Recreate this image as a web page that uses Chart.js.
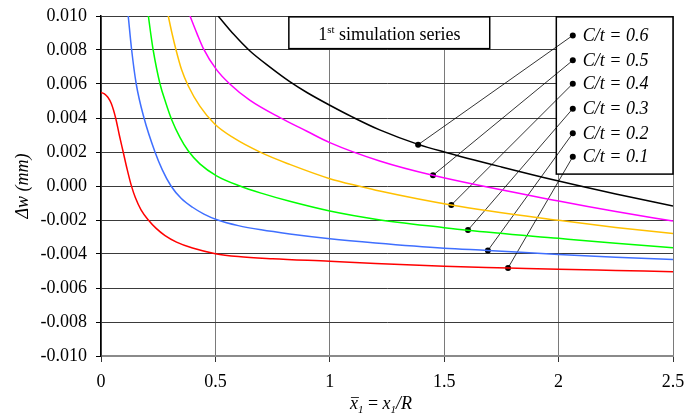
<!DOCTYPE html>
<html lang="en">
<head>
  <meta charset="UTF-8">
  <title>1st simulation series</title>
  <style>
    html, body { margin: 0; padding: 0; background: #fff; }
  </style>
</head>
<body>
  <div>
    <canvas id="myChart" width="699" height="414"></canvas>
  </div>

  <script src="https://cdn.jsdelivr.net/npm/chart.js"></script>

  <script>
    // curves, Δw in mm against x1/R
    const xRed = [0, 0.015, 0.03, 0.045, 0.064, 0.08, 0.097, 0.114, 0.132, 0.15, 0.175, 0.207, 0.24, 0.28, 0.33, 0.4, 0.5, 0.6, 0.75, 1.0, 1.2, 1.5, 1.78, 2.0, 2.25, 2.5];
    const yRed = [0.0055, 0.00542, 0.00522, 0.00485, 0.0040, 0.0030, 0.0020, 0.0010, 0.00005, -0.00068, -0.0014, -0.0020, -0.00248, -0.00292, -0.0033, -0.00365, -0.00398, -0.00415, -0.00428, -0.00443, -0.00456, -0.00472, -0.00482, -0.0049, -0.00497, -0.00504];

    const xBlue = [0.119, 0.134, 0.154, 0.188, 0.236, 0.268, 0.306, 0.35, 0.4, 0.45, 0.51, 0.6, 0.7, 0.825, 1.0, 1.2, 1.5, 1.69, 2.0, 2.25, 2.5];
    const yBlue = [0.010, 0.008, 0.006, 0.004, 0.0020, 0.00095, 0.0, -0.00072, -0.00125, -0.00165, -0.0020, -0.00233, -0.00258, -0.00282, -0.0031, -0.00335, -0.00366, -0.00379, -0.00403, -0.00419, -0.00433];

    const xGreen = [0.207, 0.217, 0.228, 0.258, 0.283, 0.309, 0.345, 0.381, 0.432, 0.505, 0.607, 0.7, 0.825, 1.0, 1.2, 1.5, 1.6, 2.0, 2.25, 2.5];
    const yGreen = [0.010, 0.009, 0.008, 0.006, 0.0049, 0.0039, 0.00286, 0.00207, 0.0013, 0.0006, 0.0, -0.00042, -0.0009, -0.00147, -0.00195, -0.00245, -0.0026, -0.00308, -0.00337, -0.00363];

    const xOrange = [0.294, 0.31, 0.328, 0.352, 0.381, 0.432, 0.498, 0.578, 0.7, 0.825, 1.0, 1.13, 1.218, 1.53, 2.0, 2.25, 2.5];
    const yOrange = [0.010, 0.009, 0.008, 0.00685, 0.0059, 0.0047, 0.00363, 0.00284, 0.00196, 0.00127, 0.00043, -0.00002, -0.0003, -0.00112, -0.00202, -0.00244, -0.0028];

    const xMagenta = [0.389, 0.42, 0.447, 0.504, 0.563, 0.65, 0.782, 0.9, 1.0, 1.218, 1.45, 2.0, 2.25, 2.5];
    const yMagenta = [0.010, 0.00895, 0.0081, 0.00686, 0.006, 0.00505, 0.00402, 0.00322, 0.00255, 0.00147, 0.00063, -0.00088, -0.0015, -0.00206];

    const xBlack = [0.512, 0.58, 0.651, 0.74, 0.825, 0.9, 1.0, 1.1, 1.218, 1.386, 1.5, 1.75, 2.0, 2.25, 2.5];
    const yBlack = [0.010, 0.00892, 0.00794, 0.00698, 0.00614, 0.0055, 0.00475, 0.00405, 0.0033, 0.00245, 0.002, 0.00112, 0.00029, -0.00047, -0.00118];

    // legend labels, top to bottom, and the leader lines that tie them to the curves
    const legendLabels = ['C/t = 0.6', 'C/t = 0.5', 'C/t = 0.4', 'C/t = 0.3', 'C/t = 0.2', 'C/t = 0.1'];
    const legendX = 2.062;
    const legendY = [0.00886, 0.00739, 0.00602, 0.00455, 0.0031, 0.00172];
    const markerX = [1.386, 1.451, 1.531, 1.604, 1.691, 1.779];
    const markerY = [0.00243, 0.00063, -0.00112, -0.00259, -0.00379, -0.00482];

    const xTicks = [0, 0.5, 1, 1.5, 2, 2.5];
    const xTickLabels = ['0', '0.5', '1', '1.5', '2', '2.5'];

    const serif = '"Liberation Serif", "Times New Roman", serif';

    function pts(xs, ys) {
      return xs.map((x, i) => ({ x: x, y: ys[i] }));
    }

    function curve(label, xs, ys, color) {
      return {
        label: label,
        data: pts(xs, ys),
        borderColor: color,
        borderWidth: 1.5,
        pointRadius: 0,
        cubicInterpolationMode: 'monotone',
        fill: false
      };
    }

    const datasets = [
      curve('C/t = 0.1', xRed, yRed, '#ff0000'),
      curve('C/t = 0.2', xBlue, yBlue, '#3f6fff'),
      curve('C/t = 0.3', xGreen, yGreen, '#00ff00'),
      curve('C/t = 0.4', xOrange, yOrange, '#ffc000'),
      curve('C/t = 0.5', xMagenta, yMagenta, '#ff00ff'),
      curve('C/t = 0.6', xBlack, yBlack, '#000000')
    ];

    legendLabels.forEach((lab, i) => {
      datasets.push({
        label: 'leader ' + lab,
        data: [{ x: legendX, y: legendY[i] }, { x: markerX[i], y: markerY[i] }],
        borderColor: '#000',
        borderWidth: 0.8,
        pointRadius: 3,
        pointBackgroundColor: '#000',
        pointBorderWidth: 0,
        tension: 0
      });
    });

    const boxes = {
      id: 'boxes',
      beforeDatasetsDraw(chart) {
        const { ctx, scales: { x, y } } = chart;
        ctx.save();
        ctx.lineWidth = 1.5;
        ctx.strokeStyle = '#000';
        ctx.fillStyle = '#fff';

        // title box
        let l = x.getPixelForValue(0.821), r = x.getPixelForValue(1.699);
        let t = y.getPixelForValue(0.00995), b = y.getPixelForValue(0.00808);
        ctx.fillRect(l, t, r - l, b - t);
        ctx.strokeRect(l, t, r - l, b - t);

        ctx.fillStyle = '#000';
        ctx.textBaseline = 'alphabetic';
        ctx.font = '18px ' + serif;
        const w1 = ctx.measureText('1').width;
        const w3 = ctx.measureText(' simulation series').width;
        ctx.font = '11px ' + serif;
        const w2 = ctx.measureText('st').width;
        let tx = (l + r) / 2 - (w1 + w2 + w3) / 2;
        const base = b - 9;
        ctx.font = '18px ' + serif;
        ctx.fillText('1', tx, base);
        ctx.font = '11px ' + serif;
        ctx.fillText('st', tx + w1, base - 7);
        ctx.font = '18px ' + serif;
        ctx.fillText(' simulation series', tx + w1 + w2, base);

        // legend box
        ctx.fillStyle = '#fff';
        l = x.getPixelForValue(1.99); r = x.getPixelForValue(2.5);
        t = y.getPixelForValue(0.00995); b = y.getPixelForValue(0.0007);
        ctx.fillRect(l, t, r - l, b - t);
        ctx.strokeRect(l, t, r - l, b - t);

        ctx.fillStyle = '#000';
        ctx.font = 'italic 18px ' + serif;
        ctx.textBaseline = 'middle';
        legendLabels.forEach((lab, i) => {
          ctx.fillText(lab, x.getPixelForValue(legendX) + 10, y.getPixelForValue(legendY[i]) + 1);
        });
        ctx.restore();
      },
      afterDraw(chart) {
        // x axis title: x̄1 = x1/R
        const { ctx, chartArea } = chart;
        ctx.save();
        ctx.fillStyle = '#000';
        ctx.strokeStyle = '#000';
        ctx.textBaseline = 'alphabetic';
        const big = 'italic 18px ' + serif, sub = 'italic 11px ' + serif, up = '18px ' + serif;
        const parts = [
          ['x', big, 0, true], ['1', sub, 4, false], [' = ', up, 0, false],
          ['x', big, 0, false], ['1', sub, 4, false], ['/R', big, 0, false]
        ];
        let total = 0;
        parts.forEach(p => { ctx.font = p[1]; total += ctx.measureText(p[0]).width; });
        let px = (chartArea.left + chartArea.right) / 2 - 6 - total / 2;
        const base = 409;
        parts.forEach(p => {
          ctx.font = p[1];
          const w = ctx.measureText(p[0]).width;
          ctx.fillText(p[0], px, base + p[2]);
          if (p[3]) {
            ctx.lineWidth = 0.8;
            ctx.beginPath();
            ctx.moveTo(px + 1, base - 11.5);
            ctx.lineTo(px + w + 1, base - 11.5);
            ctx.stroke();
          }
          px += w;
        });
        ctx.restore();
      }
    };

    const ctx = document.getElementById('myChart').getContext('2d');
    let chart = new Chart(ctx, {
      type: 'line',
      data: { datasets: datasets },
      plugins: [boxes],
      options: {
        responsive: false,
        animation: false,
        layout: { padding: { left: 0, right: 26, top: 16, bottom: 0 } },
        plugins: {
          legend: { display: false },
          tooltip: { enabled: false }
        },
        scales: {
          x: {
            type: 'linear',
            min: 0,
            max: 2.5,
            afterBuildTicks: scale => { scale.ticks = xTicks.map(v => ({ value: v })); },
            afterFit: scale => { scale.height = 58; scale.paddingLeft = 0; scale.paddingRight = 0; },
            ticks: {
              color: '#000',
              font: { family: serif, size: 18 },
              padding: 9,
              maxRotation: 0,
              callback: (v, i) => xTickLabels[i]
            },
            grid: { color: '#7a7a7a', lineWidth: 1, tickLength: 6, tickColor: '#333' },
            border: { color: '#8a8a8a', width: 2 }
          },
          y: {
            min: -0.01,
            max: 0.01,
            afterFit: scale => { scale.width = 101; scale.paddingTop = 0; scale.paddingBottom = 0; },
            ticks: {
              stepSize: 0.002,
              color: '#000',
              font: { family: serif, size: 18 },
              padding: 9,
              callback: v => Math.abs(v) < 1e-9 ? '0.000' : Number(v).toFixed(3)
            },
            grid: { color: '#3a3a3a', lineWidth: 1, tickLength: 5, tickColor: '#000' },
            border: { color: '#000', width: 1.5 },
            title: {
              display: true,
              text: 'Δw (mm)',
              color: '#000',
              font: { family: serif, size: 18, style: 'italic' },
              padding: { top: 12, bottom: 0 }
            }
          }
        }
      }
    });
  </script>
</body>
</html>
